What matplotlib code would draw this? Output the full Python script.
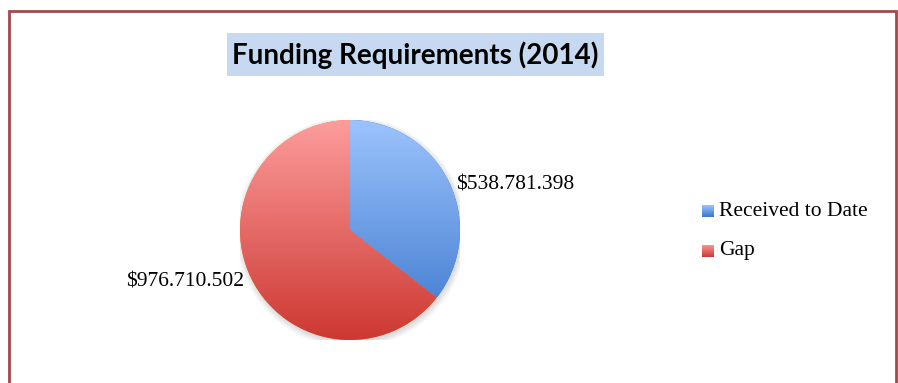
import numpy as np
import matplotlib
matplotlib.use("Agg")
import matplotlib.pyplot as plt
from matplotlib.colors import LinearSegmentedColormap
from matplotlib.patches import Rectangle, Circle

title = "Funding Requirements (2014)"
labels = ["Received to Date", "Gap"]
values = [538781398, 976710502]
value_text = ["$538.781.398", "$976.710.502"]
top_colors = ["#9cc3fc", "#fc9d9c"]
bottom_colors = ["#3a76cd", "#cd3832"]

W, H = 898, 383
fig = plt.figure(figsize=(W / 100, H / 100), dpi=100)


def px(x, y, w, h):
    # pixel box (top-left origin) -> figure fraction
    return [x / W, 1 - (y + h) / H, w / W, h / H]


def grad_cmap(top, bottom):
    return LinearSegmentedColormap.from_list("", [bottom, top])


grad = np.linspace(0, 1, 256).reshape(-1, 1)

# chart border (runs off the bottom)
fig.add_artist(Rectangle((9 / W, -0.05), (896 - 9) / W, 1.05 - 11 / H,
                         transform=fig.transFigure, fill=False,
                         ec="#a4484c", lw=2))

# title with shaded box
fig.add_artist(Rectangle((227 / W, 1 - 76 / H), (604 - 227) / W, 43 / H,
                         transform=fig.transFigure, fc="#c6d9f1", ec="none"))
fig.text(415.5 / W, 1 - 55 / H, title, ha="center", va="center",
         fontsize=20, fontweight="bold", family="Lato")

# pie
ax = fig.add_axes(px(240, 120, 220, 220))
for r in np.linspace(1.0, 1.05, 6):
    ax.add_patch(Circle((0.01, -0.02), r, color="k", alpha=0.025, lw=0))
wedges, _ = ax.pie(values, startangle=90, counterclock=False, radius=1,
                   wedgeprops=dict(linewidth=0))
for w, c0, c1 in zip(wedges, top_colors, bottom_colors):
    im = ax.imshow(grad, cmap=grad_cmap(c0, c1), extent=[-1, 1, -1, 1],
                   origin="lower", aspect="auto", zorder=3)
    im.set_clip_path(w)

# value labels just outside each slice
for w, txt in zip(wedges, value_text):
    ang = np.deg2rad((w.theta1 + w.theta2) / 2)
    x, y = 1.07 * np.cos(ang), 1.07 * np.sin(ang)
    if x > 0:
        y -= 0.06
    ax.text(x, y, txt, ha="left" if x > 0 else "right", va="center",
            fontsize=15.5, family="Liberation Serif", clip_on=False, zorder=5)

ax.set_xlim(-1, 1)
ax.set_ylim(-1, 1)
ax.axis("off")

# legend with gradient swatches
for i, (lab, c0, c1) in enumerate(zip(labels, top_colors, bottom_colors)):
    yc = 211 + 40 * i
    lax = fig.add_axes(px(702, yc - 6, 12, 12))
    lax.imshow(grad, cmap=grad_cmap(c0, c1), extent=[0, 1, 0, 1],
               origin="lower", aspect="auto")
    lax.axis("off")
    fig.text(719 / W, 1 - yc / H, lab, ha="left", va="center",
             fontsize=15.5, family="Liberation Serif")

fig.savefig("out.png", dpi=100)
